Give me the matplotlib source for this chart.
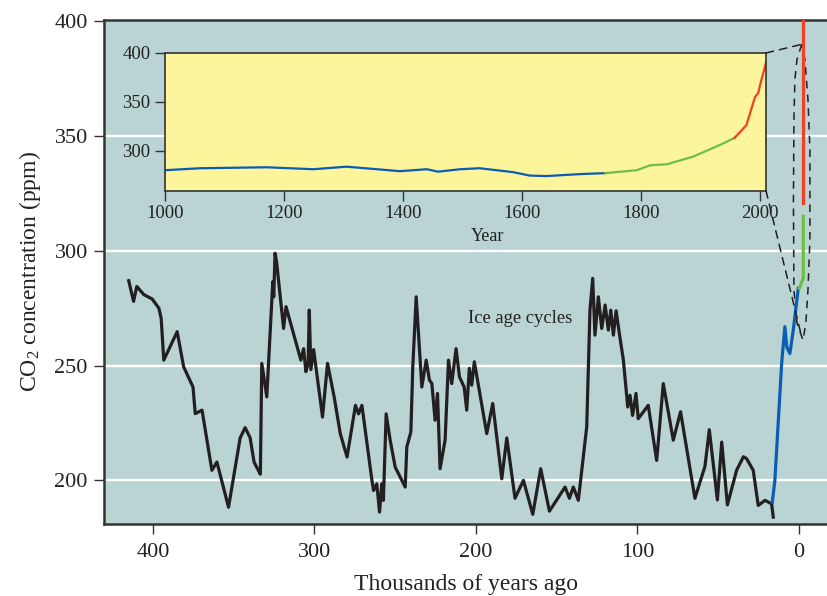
import matplotlib
matplotlib.use("Agg")
import matplotlib.pyplot as plt
from matplotlib.patches import ConnectionPatch

plt.rcParams['font.family'] = ['Liberation Serif', 'DejaVu Serif']
plt.rcParams['mathtext.fontset'] = 'custom'
plt.rcParams['mathtext.rm'] = 'Liberation Serif'
plt.rcParams['mathtext.it'] = 'Liberation Serif:italic'

# ---- data: ice-core record (thousands of years ago, ppm) ----
ice_kyr = [415, 412, 410, 405.7, 400.4, 396.3, 394.9, 393.3, 385, 381, 375.2, 373.8,
           369.6, 363.5, 360.4, 353.2, 346, 342.9, 339.8, 337.4, 335.2, 333.5, 332.6,
           329.5, 325.8, 325.2, 324.4, 323.4, 319.1, 317.6, 308.4, 306.7, 305.3, 303.9,
           303.2, 302.2, 300.5, 295, 291.9, 287.8, 284, 279.8, 274.6, 272.7, 270.6,
           264.4, 263.4, 261.4, 259.7, 258.3, 257.3, 255.6, 253.1, 250, 243.8, 242.8,
           240.3, 239.1, 237, 233.5, 230.8, 228.8, 227.3, 225.3, 223.8, 222.2, 219.1,
           217, 215, 212.3, 210.2, 207.3, 205.7, 204.1, 202.6, 201, 193.3, 189.6, 184,
           180.9, 175.8, 170.6, 164.8, 159.9, 154.5, 144.8, 142.1, 139.7, 136.6, 131.4,
           129.4, 127.7, 126.3, 124.2, 122.1, 120, 118, 116.5, 114.9, 113.2, 111.2,
           108.7, 106, 104.6, 103, 100.9, 99.5, 93.3, 88.1, 87.1, 84, 77.8, 73.3, 64.4,
           58.2, 55.5, 50.5, 47.8, 44.3, 38.6, 34.4, 32.4, 28.3, 25.2, 21, 16.9, 15.9]
ice_ppm = [287, 278, 284.5, 281, 279, 275, 270.6, 252.4, 264.8, 249.5, 240.7, 229.1,
           230.6, 204.4, 208, 188.3, 218.5, 223, 218.5, 208, 205, 202.7, 251,
           236.4, 286.6, 280, 299, 295, 266.2, 275.7, 252.4, 257.4, 247.4, 251,
           274.2, 248.3, 257, 227.6, 251, 236.4, 220.4, 210.2, 232.7, 229, 232.7,
           200, 195.6, 198.5, 186.2, 198.5, 191.3, 229, 217.5, 205.8, 197.1, 214.6,
           221.1, 249.5, 280, 240.7, 252.4, 243.7, 242.2, 226.2, 237.9, 205.1, 217.5,
           252.4, 242.2, 257.4, 245.1, 240.7, 230.6, 248.8, 241.5, 251.7, 220.4, 233.5, 200.7,
           218.5, 192.2, 200, 185.2, 205.1, 186.6, 197.1, 192.2, 197.1, 191.3, 223.3,
           274.2, 288, 263.3, 280, 266.2, 276.4, 265.5, 274.2, 263.3, 273.9, 264,
           252.4, 232, 237.1, 228.3, 237.9, 226.9, 232.7, 208.7, 216.7, 242.2, 217.5, 229.9, 192.2,
           206.1, 222.1, 191.5, 216.7, 189.3, 204.4, 210.3, 209.5, 204.4, 189.1, 191.3, 189.8, 184]

# Holocene (blue), early instrumental (green), modern (red) on the main axis
holo_kyr = [16.5, 14.9, 10.7, 8.7, 7.5, 5.6, 3.5, 0.4]
holo_ppm = [190.5, 200, 251, 267, 258, 255.3, 265.5, 283.7]
green_kyr = [-0.2, -2.7, -2.7]
green_ppm = [283.7, 288.2, 315]
red_kyr = [-2.3, -2.3]
red_ppm = [321, 402]

# dashed "zoom" outline around the recent record
loop_kyr = [-1.7, 1.2, 2.5, 3.1, 3.4, 3.1, 1.2, -2.5, -4.3, -5.6, -6.8, -6.8, -5.6, -3.7, -1.7]
loop_ppm = [390, 383.4, 374.7, 357.2, 322.3, 283, 268.6, 261.1, 268.6, 283, 304.8, 344.1,
            365.9, 383.4, 390]

# ---- inset data: last 1000 years ----
in_blue_year = [1000, 1059, 1171, 1249, 1305, 1395, 1440, 1459, 1496, 1529, 1585, 1613,
                1641, 1697, 1740]
in_blue_ppm = [280, 282, 283, 281, 283.6, 279, 281, 278.5, 281, 282, 278, 274.5,
               274, 276, 277]
in_green_year = [1740, 1793, 1815, 1843, 1888, 1933, 1957]
in_green_ppm = [277, 280, 285, 286, 294, 306, 313]
in_red_year = [1957, 1977, 1991.6, 1997, 2000, 2010]
in_red_ppm = [313, 326, 355, 359, 367, 390]

main_xticks = [400, 300, 200, 100, 0]
main_yticks = [200, 250, 300, 350, 400]
inset_xticks = [1000, 1200, 1400, 1600, 1800, 2000]
inset_yticks = [300, 350, 400]

BG = '#b9d4d2'
YEL = '#fdf59c'
BLUE = '#0a5cb4'
GREEN = '#6cbf44'
RED = '#ef4123'
BLACK = '#231f20'
SPINE = '#333333'
TXT = '#222222'

fig = plt.figure(figsize=(8.28, 5.96), dpi=100)
ax = fig.add_axes([0.1262, 0.1208, 0.8738, 0.8456])
ax.set_facecolor(BG)
ax.set_xlim(430, -18)
ax.set_ylim(181, 400.6)
for y in [200, 250, 300, 350]:
    ax.axhline(y, color='white', lw=1.7, zorder=1)
ax.plot(ice_kyr, ice_ppm, color=BLACK, lw=2.3, zorder=3, solid_joinstyle='round')
ax.plot(holo_kyr, holo_ppm, color=BLUE, lw=2.3, zorder=3)
ax.plot(green_kyr, green_ppm, color=GREEN, lw=2.3, zorder=3)
ax.plot(red_kyr, red_ppm, color=RED, lw=2.3, zorder=3)
ax.plot(loop_kyr, loop_ppm, color=BLACK, lw=1.1, ls=(0, (5, 4)), zorder=2)
ax.set_xticks(main_xticks)
ax.set_yticks(main_yticks)
ax.tick_params(direction='out', length=7, width=1, labelsize=16, colors=SPINE,
               labelcolor=TXT)
ax.tick_params(axis='x', pad=7)
ax.tick_params(axis='y', pad=5)
ax.spines['right'].set_visible(False)
for s in ['left', 'bottom', 'top']:
    ax.spines[s].set_linewidth(1.8)
    ax.spines[s].set_color(SPINE)
ax.set_xlabel('Thousands of years ago', fontsize=17, color=TXT, labelpad=8)
ax.set_ylabel('CO$_2$ concentration (ppm)', fontsize=17, color=TXT, labelpad=8)
ax.text(172.6, 270.7, 'Ice age cycles', fontsize=13.4, color=TXT,
        ha='center', va='center')

ins = fig.add_axes([0.1993, 0.680, 0.7258, 0.2311])
ins.set_facecolor(YEL)
ins.set_xlim(1000, 2010)
ins.set_ylim(259, 400)
ins.plot(in_blue_year, in_blue_ppm, color=BLUE, lw=1.6)
ins.plot(in_green_year, in_green_ppm, color=GREEN, lw=1.6)
ins.plot(in_red_year, in_red_ppm, color=RED, lw=1.6)
ins.set_xticks(inset_xticks)
ins.set_yticks(inset_yticks)
ins.tick_params(direction='out', length=7, width=1, labelsize=13.5, colors=SPINE,
                labelcolor=TXT)
for s in ins.spines.values():
    s.set_linewidth(1.2)
    s.set_color(SPINE)
ins.set_xlabel('Year', fontsize=13, color=TXT, labelpad=4, x=0.537)

for xa, xb in [((1, 1), (-1.7, 390)), ((1, 0), (-1.7, 262.6))]:
    cp = ConnectionPatch(xyA=xa, coordsA=ins.transAxes, xyB=xb, coordsB=ax.transData,
                         color=BLACK, lw=1.1, ls=(0, (5, 4)))
    fig.add_artist(cp)

fig.savefig('out.png', dpi=100)
